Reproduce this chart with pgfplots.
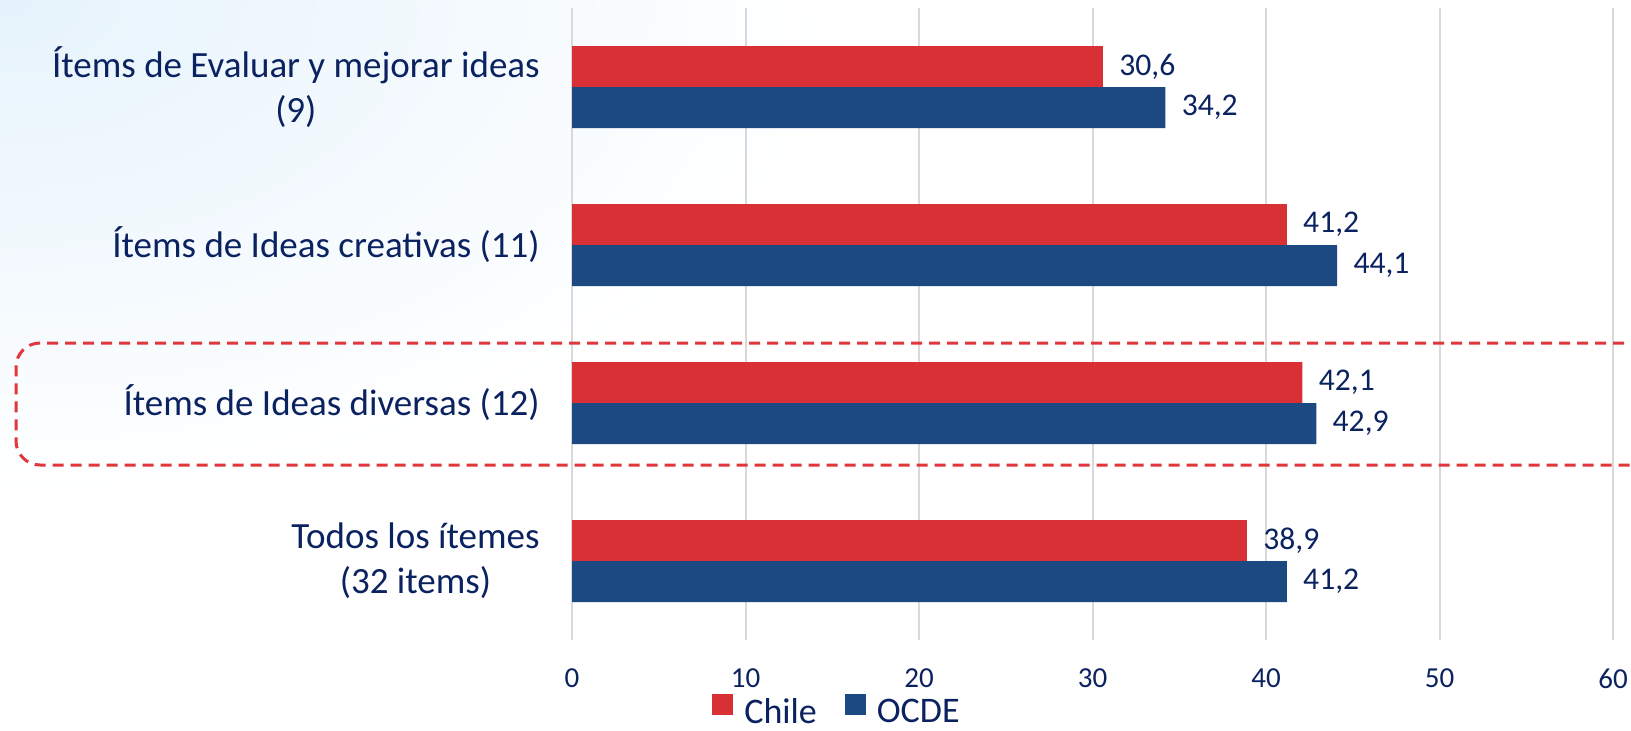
\documentclass[border=0pt]{standalone}
\usepackage{fontspec}
\setmainfont{Carlito}
\usepackage{pgfplots}
\pgfplotsset{compat=1.18}
\definecolor{chilered}{HTML}{D93036}
\definecolor{ocdeblue}{HTML}{1D4982}
\definecolor{navy}{HTML}{0B2260}
\definecolor{gridgray}{HTML}{D9D9D9}
\definecolor{boxred}{HTML}{E0363C}
\definecolor{bgblue}{HTML}{E6F3FC}
\pgfplotsset{sqlegend/.style={legend image code/.code={%
  \fill[##1] (0pt,-1pt) rectangle (10.5pt,9.5pt); \path (14pt,0pt);}}}

\begin{document}
\begin{tikzpicture}
\useasboundingbox (0,0) rectangle (815.5pt,365pt);
\begin{scope}
  \clip (0,0) rectangle (815.5pt,365pt);
  \shade[inner color=bgblue, outer color=white] (0,365pt) ellipse (420pt and 250pt);
\end{scope}
\begin{axis}[
  at={(286pt,45pt)}, anchor=south west,
  scale only axis, width=520.5pt, height=316pt,
  xbar=0pt, bar width=20.5pt,
  xmin=0, xmax=60, ymin=-0.5, ymax=3.5, y dir=reverse,
  enlargelimits=false, clip=false,
  xtick={0,10,...,60}, ytick={0,1,2,3},
  yticklabels={{Ítems de Evaluar y mejorar ideas\\(9)},
               {Ítems de Ideas creativas (11)},
               {Ítems de Ideas diversas (12)},
               {Todos los ítemes\\(32 items)}},
  axis line style={draw=none},
  major tick length=0pt,
  xmajorgrids, grid style={gridgray, line width=1pt},
  /pgf/number format/assume math mode=true,
  xticklabel style={font=\fontsize{14.5}{17}\selectfont, text=navy,
    anchor=north, inner sep=0pt, yshift=-14pt},
  yticklabel style={font=\fontsize{18.5}{22.5}\selectfont, text=navy,
    anchor=east, inner sep=0pt, xshift=-16pt, align=center},
  nodes near coords,
  nodes near coords style={font=\fontsize{15.8}{18}\selectfont, text=navy,
    anchor=west, inner sep=0pt, xshift=8pt,
    /pgf/number format/fixed, /pgf/number format/fixed zerofill,
    /pgf/number format/precision=1, /pgf/number format/use comma},
  legend columns=2,
  legend style={at={(axis description cs:0.2555,-0.114)}, anchor=center,
    draw=none, fill=none, font=\fontsize{18}{21}\selectfont, text=navy,
    /tikz/every even column/.append style={column sep=12pt}},
]
\addplot[fill=chilered, draw=none, sqlegend, bar shift=10.25pt]
  coordinates {(30.6,0) (41.2,1) (42.1,2) (38.9,3)};
\addplot[fill=ocdeblue, draw=none, sqlegend, bar shift=-10.25pt]
  coordinates {(34.2,0) (44.1,1) (42.9,2) (41.2,3)};
\legend{Chile, OCDE}
\end{axis}
\draw[boxred, line width=1.5pt, dash pattern=on 5.5pt off 3.5pt, rounded corners=12pt]
  (830pt,193.5pt) -- (8pt,193.5pt) -- (8pt,132.5pt) -- (830pt,132.5pt);
\end{tikzpicture}
\end{document}
